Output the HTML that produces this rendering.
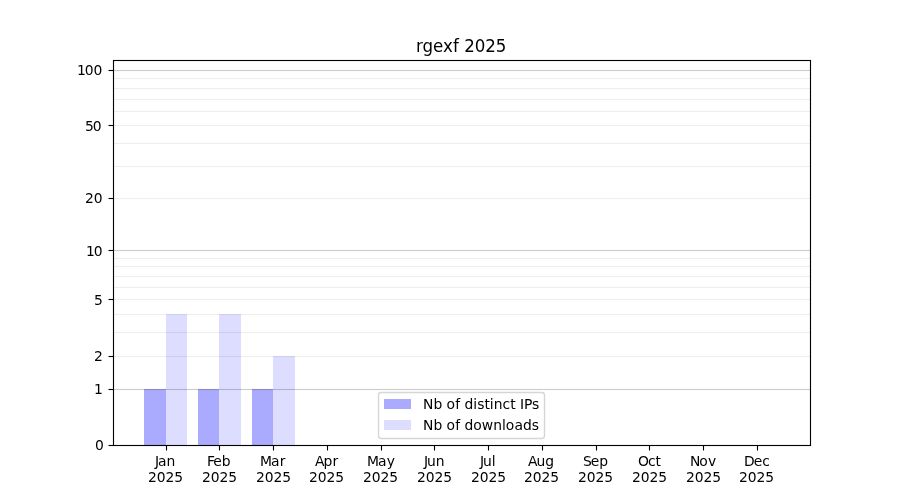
<!DOCTYPE html>
<html lang="en">
<head>
<meta charset="utf-8">
<title>rgexf 2025</title>
<style>
html,body{margin:0;padding:0;background:#fff;}
body{width:900px;height:500px;overflow:hidden;}
svg{display:block;will-change:transform;}
text{font-family:"DejaVu Sans", "Liberation Sans", sans-serif;fill:#000;}
.t{font-size:13.889px;}
.ttl{font-size:16.667px;}
</style>
</head>
<body>
<svg width="900" height="500" viewBox="0 0 900 500">
<rect x="0" y="0" width="900" height="500" fill="#ffffff"/>
<g shape-rendering="crispEdges">
<rect x="144" y="389" width="22" height="56" fill="#aaaaff"/>
<rect x="198" y="389" width="21" height="56" fill="#aaaaff"/>
<rect x="252" y="389" width="21" height="56" fill="#aaaaff"/>
<rect x="166" y="314" width="21" height="131" fill="#ddddff"/>
<rect x="219" y="314" width="22" height="131" fill="#ddddff"/>
<rect x="273" y="356" width="22" height="89" fill="#ddddff"/>
</g>
<g fill="#000" shape-rendering="crispEdges">
<rect x="113" y="388" width="697" height="3" fill-opacity="0.012"/><rect x="113" y="389" width="697" height="1" fill-opacity="0.1874"/>
<rect x="113" y="355" width="697" height="3" fill-opacity="0.004"/><rect x="113" y="356" width="697" height="1" fill-opacity="0.0620"/>
<rect x="113" y="331" width="697" height="3" fill-opacity="0.004"/><rect x="113" y="332" width="697" height="1" fill-opacity="0.0620"/>
<rect x="113" y="313" width="697" height="3" fill-opacity="0.004"/><rect x="113" y="314" width="697" height="1" fill-opacity="0.0620"/>
<rect x="113" y="298" width="697" height="3" fill-opacity="0.004"/><rect x="113" y="299" width="697" height="1" fill-opacity="0.0620"/>
<rect x="113" y="286" width="697" height="3" fill-opacity="0.004"/><rect x="113" y="287" width="697" height="1" fill-opacity="0.0620"/>
<rect x="113" y="275" width="697" height="3" fill-opacity="0.004"/><rect x="113" y="276" width="697" height="1" fill-opacity="0.0620"/>
<rect x="113" y="265" width="697" height="3" fill-opacity="0.004"/><rect x="113" y="266" width="697" height="1" fill-opacity="0.0620"/>
<rect x="113" y="257" width="697" height="3" fill-opacity="0.004"/><rect x="113" y="258" width="697" height="1" fill-opacity="0.0620"/>
<rect x="113" y="249" width="697" height="3" fill-opacity="0.012"/><rect x="113" y="250" width="697" height="1" fill-opacity="0.1874"/>
<rect x="113" y="197" width="697" height="3" fill-opacity="0.004"/><rect x="113" y="198" width="697" height="1" fill-opacity="0.0620"/>
<rect x="113" y="165" width="697" height="3" fill-opacity="0.004"/><rect x="113" y="166" width="697" height="1" fill-opacity="0.0620"/>
<rect x="113" y="142" width="697" height="3" fill-opacity="0.004"/><rect x="113" y="143" width="697" height="1" fill-opacity="0.0620"/>
<rect x="113" y="124" width="697" height="3" fill-opacity="0.004"/><rect x="113" y="125" width="697" height="1" fill-opacity="0.0620"/>
<rect x="113" y="110" width="697" height="3" fill-opacity="0.004"/><rect x="113" y="111" width="697" height="1" fill-opacity="0.0620"/>
<rect x="113" y="98" width="697" height="3" fill-opacity="0.004"/><rect x="113" y="99" width="697" height="1" fill-opacity="0.0620"/>
<rect x="113" y="87" width="697" height="3" fill-opacity="0.004"/><rect x="113" y="88" width="697" height="1" fill-opacity="0.0620"/>
<rect x="113" y="77" width="697" height="3" fill-opacity="0.004"/><rect x="113" y="78" width="697" height="1" fill-opacity="0.0620"/>
<rect x="113" y="69" width="697" height="3" fill-opacity="0.012"/><rect x="113" y="70" width="697" height="1" fill-opacity="0.1874"/>
</g>
<g stroke="#000" stroke-width="1.111" fill="none">
<line x1="166.5" y1="445.5" x2="166.5" y2="450.5"/>
<line x1="219.5" y1="445.5" x2="219.5" y2="450.5"/>
<line x1="273.5" y1="445.5" x2="273.5" y2="450.5"/>
<line x1="327.5" y1="445.5" x2="327.5" y2="450.5"/>
<line x1="381.5" y1="445.5" x2="381.5" y2="450.5"/>
<line x1="434.5" y1="445.5" x2="434.5" y2="450.5"/>
<line x1="488.5" y1="445.5" x2="488.5" y2="450.5"/>
<line x1="542.5" y1="445.5" x2="542.5" y2="450.5"/>
<line x1="596.5" y1="445.5" x2="596.5" y2="450.5"/>
<line x1="649.5" y1="445.5" x2="649.5" y2="450.5"/>
<line x1="703.5" y1="445.5" x2="703.5" y2="450.5"/>
<line x1="757.5" y1="445.5" x2="757.5" y2="450.5"/>
<line x1="108.5" y1="445.5" x2="113.5" y2="445.5"/>
<line x1="108.5" y1="389.5" x2="113.5" y2="389.5"/>
<line x1="108.5" y1="356.5" x2="113.5" y2="356.5"/>
<line x1="108.5" y1="299.5" x2="113.5" y2="299.5"/>
<line x1="108.5" y1="250.5" x2="113.5" y2="250.5"/>
<line x1="108.5" y1="198.5" x2="113.5" y2="198.5"/>
<line x1="108.5" y1="125.5" x2="113.5" y2="125.5"/>
<line x1="108.5" y1="70.5" x2="113.5" y2="70.5"/>
<rect x="113.5" y="60.5" width="697" height="385" stroke-linejoin="miter"/>
</g>
<text class="t" x="155 158.08 166.6" y="465.53">Jan</text>
<text class="t" x="148.04 156.86 165.43 174.26" y="481.58">2025</text>
<text class="t" x="206.9 213.37 221.65" y="465.53">Feb</text>
<text class="t" x="202.03 210.85 219.42 228.25" y="481.58">2025</text>
<text class="t" x="260.08 271.05 279.8" y="465.53">Mar</text>
<text class="t" x="256.01 264.83 273.4 282.23" y="481.58">2025</text>
<text class="t" x="314.9 323.39 332.45" y="465.53">Apr</text>
<text class="t" x="309 317.82 326.39 335.22" y="481.58">2025</text>
<text class="t" x="367.06 378.02 386.77" y="465.53">May</text>
<text class="t" x="362.99 371.81 380.38 389.21" y="481.58">2025</text>
<text class="t" x="424.04 427.11 435.66" y="465.53">Jun</text>
<text class="t" x="416.97 425.79 434.61 443.19" y="481.58">2025</text>
<text class="t" x="479.99 483.07 491.87" y="465.53">Jul</text>
<text class="t" x="470.96 479.78 488.6 497.18" y="481.58">2025</text>
<text class="t" x="528.05 536.54 545.33" y="465.53">Aug</text>
<text class="t" x="523.94 532.76 541.58 550.16" y="481.58">2025</text>
<text class="t" x="583.01 590.81 599.36" y="465.53">Sep</text>
<text class="t" x="577.93 586.75 595.57 604.15" y="481.58">2025</text>
<text class="t" x="638.08 647.99 655.38" y="465.53">Oct</text>
<text class="t" x="631.92 640.74 649.56 658.14" y="481.58">2025</text>
<text class="t" x="690.01 699.14 708.12" y="465.53">Nov</text>
<text class="t" x="685.9 694.72 703.54 712.37" y="481.58">2025</text>
<text class="t" x="744.12 753.79 762.34" y="465.53">Dec</text>
<text class="t" x="738.89 747.71 756.53 765.36" y="481.58">2025</text>
<text class="t" x="94.95" y="449.53">0</text>
<text class="t" x="93.95" y="393.68">1</text>
<text class="t" x="93.95" y="360.72">2</text>
<text class="t" x="93.95" y="304.63">5</text>
<text class="t" x="86.12 93.69" y="255.6">10</text>
<text class="t" x="85.12 93.69" y="202.54">20</text>
<text class="t" x="85.12 92.69" y="130.66">50</text>
<text class="t" x="77.05 84.86 93.44" y="74.62">100</text>
<text class="ttl" transform="translate(0 51.67) scale(1 1.02)" x="416 422.55 433.12 443.08 452.94 458.8 464.34 474.69 485.15 495.63" y="0">rgexf 2025</text>
<rect x="378.5" y="392.5" width="166" height="46" rx="2.78" ry="2.78" fill="#fff" fill-opacity="0.8" stroke="#ccc" stroke-opacity="0.8" stroke-width="1.389"/>
<g shape-rendering="crispEdges"><rect x="384" y="399" width="27" height="10" fill="#aaaaff"/><rect x="384" y="420" width="27" height="10" fill="#ddddff"/></g>
<text class="t" x="423 433.38 442.17 446.59 455.33 459.97 464.38 473.19 477.28 484.52 489.7 493.81 502.61 510.23 515.42 520.08 523.92 532.05" y="408.73">Nb of distinct IPs</text>
<text class="t" x="423 433.38 442.17 446.59 455.33 459.97 464.38 473.19 481.67 493.27 502.06 505.67 514.41 522.91 531.72" y="429.61">Nb of downloads</text>
</svg>
</body>
</html>
